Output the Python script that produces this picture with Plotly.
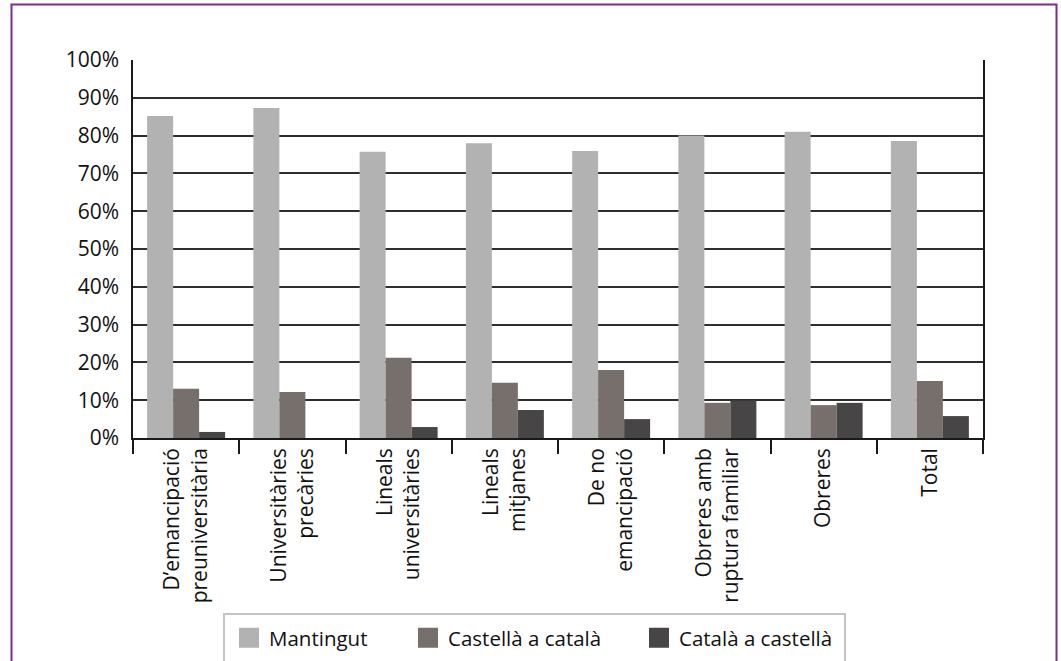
import plotly.graph_objects as go

# Categories and shares (percent) for each series
categories = [
    "D’emancipació<br>preuniversitària",
    "Universitàries<br>precàries",
    "Lineals<br>universitàries",
    "Lineals<br>mitjanes",
    "De no<br>emancipació",
    "Obreres amb<br>ruptura familiar",
    "Obreres",
    "Total",
]
mantingut = [85.2, 87.3, 75.7, 78.0, 75.9, 80.0, 81.0, 78.6]
castella_a_catala = [13.0, 12.2, 21.2, 14.6, 18.0, 9.3, 8.7, 15.1]
catala_a_castella = [1.6, 0.0, 2.9, 7.4, 5.0, 9.9, 9.3, 5.8]

series_names = ["Mantingut", "Castellà a català", "Català a castellà"]
series_colors = ["#b2b2b2", "#766f6b", "#484546"]
y_ticks = list(range(0, 101, 10))
y_tick_text = [f"{v}%" for v in y_ticks]

W, H = 1061, 661
ML, MR, MT, MB = 133, 78, 60, 223
PW = W - ML - MR
PH = H - MT - MB

FONT = "Open Sans"
TICK_SIZE = 21
LEGEND_SIZE = 20.5


def px_x(px):
    return (px - ML) / PW


def px_y(py):
    return (H - MB - py) / PH


fig = go.Figure()
for name, vals, col in zip(series_names,
                           [mantingut, castella_a_catala, catala_a_castella],
                           series_colors):
    fig.add_trace(go.Bar(x=categories, y=vals, name=name, showlegend=False,
                         marker=dict(color=col, line=dict(width=0))))

# legend entries: one legend per series, so each key sits at its own spot
legend_ids = ["legend", "legend2", "legend3"]
legend_left = [229, 408, 639]
for name, col, lid in zip(series_names, series_colors, legend_ids):
    fig.add_trace(go.Scatter(x=[None], y=[None], mode="markers", name=name,
                             legend=lid, showlegend=True,
                             marker=dict(symbol="square", size=16, color=col,
                                         line=dict(color=col, width=4))))

legend_style = dict(orientation="h", xanchor="left", yanchor="middle",
                    y=px_y(638), bgcolor="rgba(0,0,0,0)", borderwidth=0,
                    font=dict(size=LEGEND_SIZE, family=FONT, color="#111"),
                    itemwidth=30)

# purple frame around the whole figure
fig.add_shape(type="rect", xref="paper", yref="paper",
              x0=px_x(11.5), x1=px_x(1056.5), y0=px_y(680), y1=px_y(4.5),
              line=dict(color="#7a2e86", width=2), fillcolor="rgba(0,0,0,0)",
              layer="above")
# legend box
fig.add_shape(type="rect", xref="paper", yref="paper",
              x0=px_x(224), x1=px_x(845), y0=px_y(690), y1=px_y(614),
              line=dict(color="#c4c4c4", width=2), fillcolor="rgba(0,0,0,0)",
              layer="below")

fig.update_layout(
    width=W, height=H,
    margin=dict(l=ML, r=MR, t=MT, b=MB, autoexpand=False),
    paper_bgcolor="white", plot_bgcolor="white",
    font=dict(family=FONT, size=TICK_SIZE, color="#111"),
    barmode="group", bargap=0.266, bargroupgap=0,
    showlegend=True,
    legend=dict(x=px_x(legend_left[0]), **legend_style),
    legend2=dict(x=px_x(legend_left[1]), **legend_style),
    legend3=dict(x=px_x(legend_left[2]), **legend_style),
    xaxis=dict(type="category", tickangle=-90, showline=True,
               linecolor="#1a1a1a", linewidth=1.5, mirror=False,
               ticks="outside", tickson="boundaries", ticklen=14,
               tickcolor="#1a1a1a", tickwidth=1.5, automargin=False,
               showgrid=False, tickfont=dict(size=TICK_SIZE, family=FONT)),
    yaxis=dict(range=[0, 100], tickvals=y_ticks, ticktext=y_tick_text,
               showline=True, linecolor="#1a1a1a", linewidth=1.5,
               mirror=True, showgrid=True, gridcolor="#2e2e2e",
               gridwidth=1.5, zeroline=False, ticks="", automargin=False,
               ticklabelstandoff=8, tickfont=dict(size=TICK_SIZE, family=FONT)),
)

fig.write_html("out.html")
